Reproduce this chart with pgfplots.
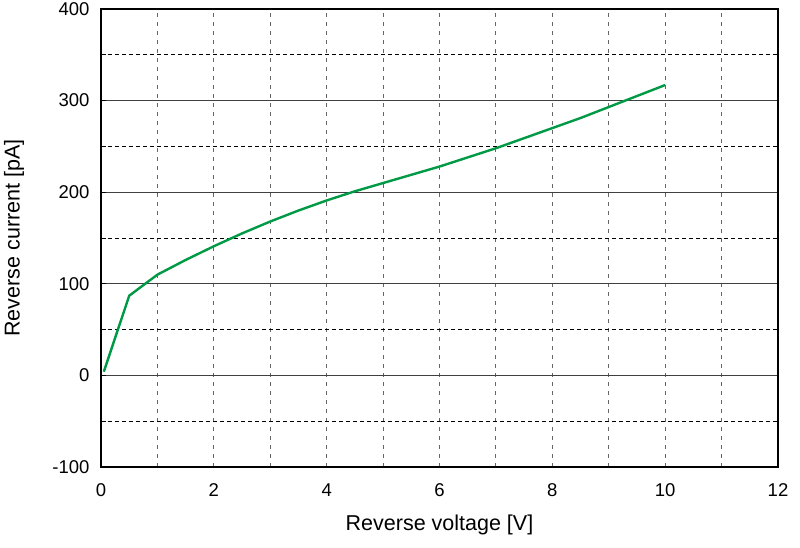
\documentclass[border=0pt]{standalone}
\usepackage{pgfplots}
\pgfplotsset{compat=1.18}
\usepackage{fontspec}
\setmainfont{Liberation Sans}
\definecolor{curvegreen}{RGB}{0,153,70}
\begin{document}
\begin{tikzpicture}
\begin{axis}[
    scale only axis,
    width=677pt, height=458pt,
    xmin=0, xmax=12, ymin=-100, ymax=400,
    xtick={0,2,...,12},
    minor xtick={1,3,...,11},
    ytick={-100,0,...,400},
    minor ytick={-50,50,...,350},
    xtick style={draw=none},
    ytick pos=left,
    ytick align=inside,
    major tick length=5pt, minor tick length=5pt,
    ytick style={black, line width=0.8pt},
    xmajorgrids, ymajorgrids, xminorgrids, yminorgrids,
    x grid style={black!60, dash pattern=on 4pt off 5pt, line width=0.9pt},
    minor x grid style={black!60, dash pattern=on 4pt off 5pt, line width=0.9pt},
    y grid style={black!75, line width=0.9pt},
    minor y grid style={black, dash pattern=on 4pt off 3pt, line width=0.7pt},
    axis line style={black, line width=2pt},
    /pgf/number format/assume math mode=true,
    tick label style={font=\fontsize{18.5}{20}\selectfont},
    xticklabel style={anchor=center, yshift=-23pt},
    yticklabel style={anchor=east, xshift=-8pt},
    xlabel={Reverse voltage [V]},
    ylabel={Reverse current [pA]},
    every axis x label/.style={at={(axis description cs:0.5,-0.1266)}, anchor=center,
        font=\fontsize{21.5}{24}\selectfont},
    every axis y label/.style={at={(axis description cs:-0.1285,0.5)}, anchor=center, rotate=90,
        font=\fontsize{21.5}{24}\selectfont},
]
\addplot[curvegreen, line width=2.4pt] coordinates {
    (0.05,4) (0.5,87) (1,110) (1.5,126) (2,141) (2.5,155) (3,168)
    (3.5,180) (4,191) (4.5,201) (5,210) (5.5,219) (6,228) (6.5,238)
    (7,248) (7.5,259) (8,270) (8.5,281) (9,293) (9.5,305) (10,317)
};
\end{axis}
\pgfresetboundingbox
\path (current axis.south west) ++(-101pt,-80pt) rectangle ++(800pt,547pt);
\end{tikzpicture}
\end{document}
